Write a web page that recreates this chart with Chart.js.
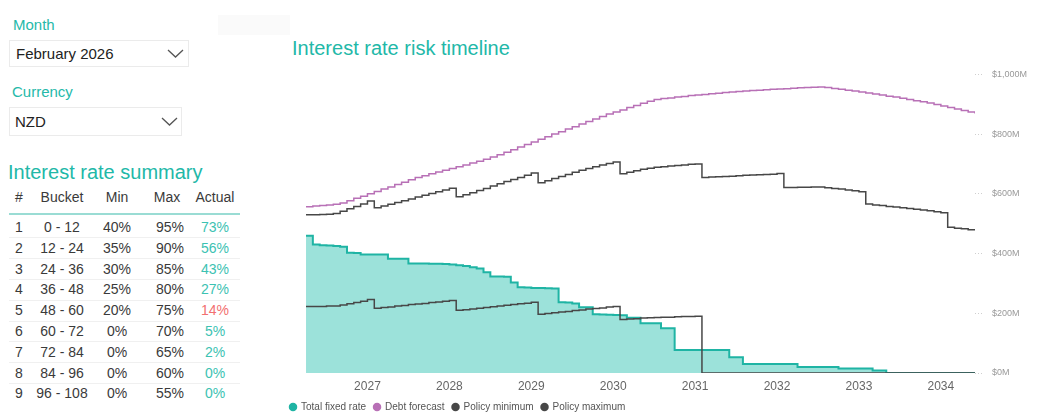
<!DOCTYPE html>
<html>
<head>
<meta charset="utf-8">
<script src="https://cdn.jsdelivr.net/npm/chart.js@4.4.1/dist/chart.umd.min.js"></script>
<style>
  html, body { margin: 0; padding: 0; background: #fff; }
  body { width: 1051px; height: 416px; overflow: hidden; position: relative;
         font-family: 'Liberation Sans', Arial, sans-serif; color: #333; }
  .abs { position: absolute; white-space: nowrap; }
  .lbl { color: #25b9a9; font-size: 15px; }
  .box { position: absolute; border: 1px solid #ebebeb; background: #fff; }
  .boxtxt { position: absolute; font-size: 15px; color: #222; }
  .heading { color: #22b8a8; font-size: 20px; }
  .cell { position: absolute; width: 70px; margin-left: -35px; text-align: center;
          font-size: 14px; line-height: 16px; color: #3a3a3a; }
  .sep { position: absolute; left: 9px; width: 231px; height: 1px; background: #f0f0f0; }
  #wrap { position: absolute; left: 282px; top: 60px; width: 769px; height: 370px; }
</style>
</head>
<body>
<!-- slicers -->
<div class="abs" style="left:218px;top:15px;width:72px;height:20px;background:#fafafa;"></div>
<div class="abs lbl" style="left:13px;top:16px;">Month</div>
<div class="box" style="left:9px;top:40px;width:178px;height:25px;"></div>
<div class="boxtxt" style="left:16px;top:45px;">February 2026</div>
<svg class="abs" style="left:167px;top:49px;" width="17" height="10"><polyline points="1,1 8.5,8 16,1" fill="none" stroke="#555" stroke-width="1.3"/></svg>

<div class="abs lbl" style="left:12px;top:83px;">Currency</div>
<div class="box" style="left:9px;top:107px;width:171px;height:27px;"></div>
<div class="boxtxt" style="left:15px;top:113px;">NZD</div>
<svg class="abs" style="left:161px;top:117px;" width="17" height="10"><polyline points="1,1 8.5,8 16,1" fill="none" stroke="#555" stroke-width="1.3"/></svg>

<div class="abs heading" style="left:8px;top:161px;">Interest rate summary</div>
<div id="table"></div>

<div class="abs heading" style="left:292px;top:37px;">Interest rate risk timeline</div>

<div id="wrap"><canvas id="chart" width="769" height="370" style="width:769px;height:370px;"></canvas></div>

<script>
// ---- Interest rate summary table ----
const bucketNo   = ['1', '2', '3', '4', '5', '6', '7', '8', '9'];
const bucketName = ['0 - 12', '12 - 24', '24 - 36', '36 - 48', '48 - 60', '60 - 72', '72 - 84', '84 - 96', '96 - 108'];
const bucketMin  = [40, 35, 30, 25, 20, 0, 0, 0, 0];
const bucketMax  = [95, 90, 85, 80, 75, 70, 65, 60, 55];
const bucketActual = [73, 56, 43, 27, 14, 5, 2, 0, 0];

// ---- Timeline (months since Jan 2026) ----
const months = [3, 4, 5, 6, 7, 8, 9, 10, 11, 12,
  13, 14, 15, 16, 17, 18, 19, 20, 21, 22,
  23, 24, 25, 26, 27, 28, 29, 30, 31, 32,
  33, 34, 35, 36, 37, 38, 39, 40, 41, 42,
  43, 44, 45, 46, 47, 48, 49, 50, 51, 52,
  53, 54, 55, 56, 57, 58, 59, 60, 61, 62,
  63, 64, 65, 66, 67, 68, 69, 70, 71, 72,
  73, 74, 75, 76, 77, 78, 79, 80, 81, 82,
  83, 84, 85, 86, 87, 88, 89, 90, 91, 92,
  93, 94, 95, 96, 97, 98, 99, 100, 101];

// $M
const totalFixedRate = [460, 430, 428, 427, 425, 423, 403, 402, 397, 397,
  397, 397, 383, 383, 383, 367, 367, 367, 366, 366,
  365, 363, 361, 358, 354, 350, 337, 323, 323, 322,
  303, 287, 286, 285, 285, 284, 283, 237, 236, 233,
  220, 220, 197, 196, 195, 194, 193, 185, 185, 167,
  167, 167, 150, 150, 77, 77, 77, 77, 77, 77,
  77, 77, 53, 53, 30, 30, 30, 30, 30, 30,
  30, 30, 20, 20, 20, 20, 20, 20, 15, 15,
  15, 15, 15, 8, 8, 0, 0, 0, 0, 0,
  0, 0, 0, 0, 0, 0, 0, 0, 0];

const debtForecast = [557, 559, 561, 563, 565, 569, 577, 585, 592, 600,
  608, 616, 623, 631, 639, 647, 655, 661, 667, 673,
  679, 685, 691, 697, 703, 709, 716, 723, 731, 739,
  748, 757, 765, 774, 783, 791, 800, 808, 817, 825,
  834, 842, 851, 859, 867, 874, 881, 889, 896, 903,
  910, 916, 919, 921, 924, 926, 929, 931, 933, 935,
  937, 939, 941, 943, 944, 946, 947, 949, 950, 951,
  952, 954, 955, 956, 957, 958, 956, 953, 950, 947,
  944, 941, 938, 934, 931, 927, 924, 920, 916, 912,
  908, 904, 899, 894, 889, 884, 879, 874, 869];

const policyMinimum = [223, 223, 223, 224, 224, 228, 232, 236, 240, 246,
  217, 219, 221, 224, 226, 229, 231, 233, 236, 238,
  240, 243, 210, 212, 214, 217, 219, 222, 224, 227,
  229, 232, 234, 237, 197, 199, 202, 204, 206, 209,
  211, 214, 216, 218, 221, 223, 179, 181, 182, 184,
  185, 186, 187, 187, 188, 189, 189, 190, 0, 0,
  0, 0, 0, 0, 0, 0, 0, 0, 0, 0,
  0, 0, 0, 0, 0, 0, 0, 0, 0, 0,
  0, 0, 0, 0, 0, 0, 0, 0, 0, 0,
  0, 0, 0, 0, 0, 0, 0, 0, 0];

const policyMaximum = [530, 530, 531, 532, 534, 542, 550, 558, 566, 576,
  553, 559, 565, 571, 577, 583, 589, 595, 601, 607,
  613, 619, 590, 597, 604, 611, 618, 626, 634, 641,
  648, 655, 662, 670, 637, 644, 651, 658, 665, 672,
  679, 685, 691, 697, 702, 707, 667, 672, 677, 682,
  686, 689, 691, 693, 695, 697, 699, 700, 655, 656,
  657, 658, 659, 661, 662, 663, 664, 665, 666, 668,
  621, 621, 622, 622, 623, 623, 620, 618, 616, 613,
  610, 607, 566, 563, 561, 558, 556, 553, 551, 548,
  546, 543, 540, 537, 488, 485, 483, 480, 477];

const yearTickMonths = [12, 24, 36, 48, 60, 72, 84, 96];
const yearLabels = ['2027', '2028', '2029', '2030', '2031', '2032', '2033', '2034'];
const yTickLabels = ['$0M', '$200M', '$400M', '$600M', '$800M', '$1,000M'];

// build the summary table
(function () {
  const t = document.getElementById('table');
  const cols = [19, 62, 117, 170, 215];
  const head = ['#', 'Bucket', 'Min', 'Max', 'Actual'];
  const add = (x, y, txt, color) => {
    const d = document.createElement('div');
    d.className = 'cell';
    d.style.left = x + 'px';
    d.style.top = (y - 8) + 'px';
    d.textContent = txt;
    if (color) d.style.color = color;
    t.appendChild(d);
  };
  head.forEach((h, i) => add(cols[i] + (i === 3 ? -3 : 0), 197, h));
  const rule = document.createElement('div');
  rule.className = 'abs';
  rule.style.cssText = 'left:9px;top:213px;width:231px;height:2px;background:#9adcd4;';
  t.appendChild(rule);
  const rowH = 20.8;
  bucketNo.forEach((n, r) => {
    const y = 227 + r * rowH;
    add(cols[0], y, n);
    add(cols[1], y, bucketName[r]);
    add(cols[2], y, bucketMin[r] + '%');
    add(cols[3], y, bucketMax[r] + '%');
    const ok = bucketActual[r] >= bucketMin[r] && bucketActual[r] <= bucketMax[r];
    add(cols[4], y, bucketActual[r] + '%', ok ? '#3cc2b2' : '#f27070');
    if (r < bucketNo.length - 1) {
      const s = document.createElement('div');
      s.className = 'sep';
      s.style.top = Math.round(y + rowH / 2) + 'px';
      t.appendChild(s);
    }
  });
})();

// ---- chart ----
Chart.defaults.font.family = "'Liberation Sans', Arial, sans-serif";
const pts = arr => months.map((m, i) => ({ x: m, y: arr[i] }));

new Chart(document.getElementById('chart'), {
  type: 'line',
  data: {
    datasets: [
      { label: 'Total fixed rate', data: pts(totalFixedRate), stepped: true, fill: 'origin',
        borderColor: '#1fb4a4', backgroundColor: '#9ce2da', borderWidth: 2, pointRadius: 0, order: 1 },
      { label: 'Debt forecast', data: pts(debtForecast), stepped: true, fill: false,
        borderColor: '#b870b6', backgroundColor: '#b870b6', borderWidth: 1.5, pointRadius: 0, order: 0 },
      { label: 'Policy minimum', data: pts(policyMinimum), stepped: true, fill: false,
        borderColor: '#474747', backgroundColor: '#474747', borderWidth: 1.5, pointRadius: 0, order: 0 },
      { label: 'Policy maximum', data: pts(policyMaximum), stepped: true, fill: false,
        borderColor: '#474747', backgroundColor: '#474747', borderWidth: 1.5, pointRadius: 0, order: 0 }
    ]
  },
  options: {
    responsive: false,
    animation: false,
    devicePixelRatio: 1,
    layout: { padding: { top: 14, bottom: 8, left: 0, right: 0 } },
    plugins: {
      tooltip: { enabled: false },
      legend: {
        position: 'bottom',
        align: 'start',
        labels: {
          usePointStyle: true,
          pointStyle: 'circle',
          boxWidth: 6,
          boxHeight: 6,
          padding: 8,
          color: '#555',
          font: { size: 10 },
          sort: (a, b) => a.datasetIndex - b.datasetIndex,
          generateLabels: chart => {
            const items = Chart.defaults.plugins.legend.labels.generateLabels(chart);
            items.forEach(it => {
              const ds = chart.data.datasets[it.datasetIndex];
              it.fillStyle = ds.borderColor;
              it.strokeStyle = ds.borderColor;
              it.lineWidth = 0;
            });
            return items;
          }
        }
      }
    },
    scales: {
      x: {
        type: 'linear',
        min: -0.52,
        max: 101,
        border: { display: false },
        grid: { display: false, drawTicks: false },
        afterBuildTicks: s => { s.ticks = yearTickMonths.map(v => ({ value: v })); },
        afterFit: s => { s.height = 21; },
        ticks: {
          autoSkip: false,
          maxRotation: 0,
          padding: 6,
          color: '#666',
          font: { size: 12 },
          callback: (v, i) => yearLabels[i]
        }
      },
      y: {
        position: 'right',
        min: 0,
        max: 1000,
        border: { display: false },
        afterFit: s => { s.width = 76; },
        grid: { drawOnChartArea: false, tickLength: 8, tickColor: '#cfcfcf', tickBorderDash: [1, 2] },
        ticks: {
          stepSize: 200,
          padding: 9,
          color: '#999',
          font: { size: 9 },
          callback: (v, i) => yTickLabels[i]
        }
      }
    }
  }
});
</script>
</body>
</html>
